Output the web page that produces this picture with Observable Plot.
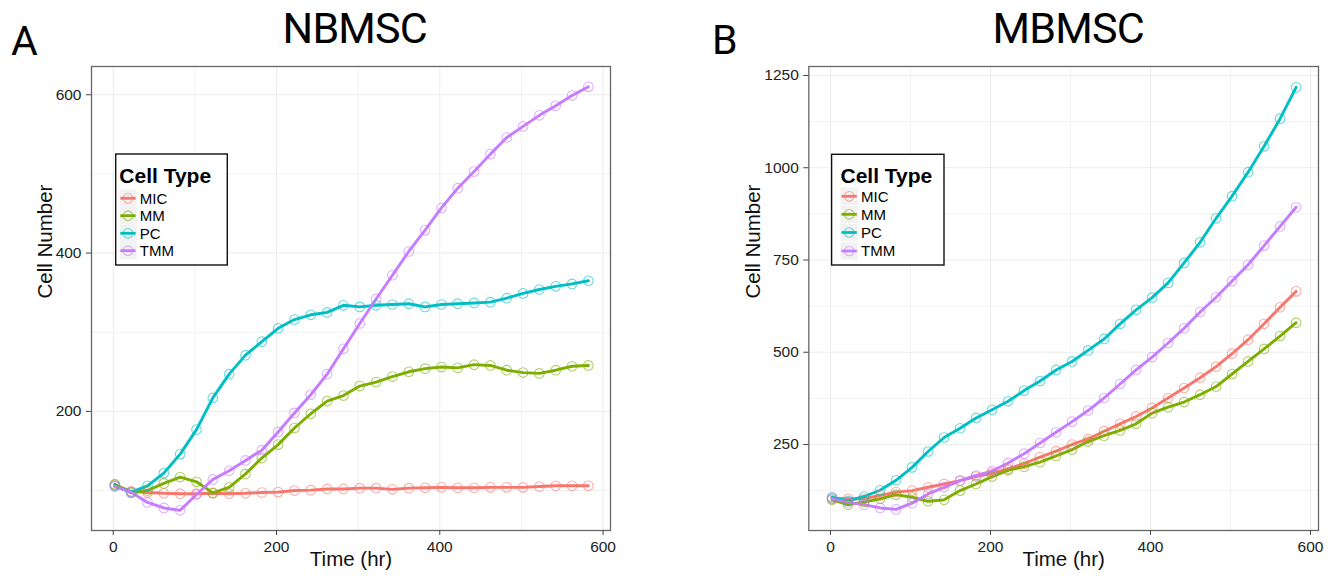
<!DOCTYPE html>
<html><head><meta charset="utf-8">
<script src="https://cdn.jsdelivr.net/npm/d3@7"></script>
<script src="https://cdn.jsdelivr.net/npm/@observablehq/plot@0.6"></script>
<style>
body{margin:0;background:#fff;}
#wrap{position:relative;width:1332px;height:579px;overflow:hidden;background:#fff;}
#wrap svg{position:absolute;top:0;}
.ttl{position:absolute;font-family:Roboto,'Open Sans',sans-serif;color:#000;white-space:nowrap;line-height:normal;}
</style></head><body><div id="wrap"></div>
<script>
// ---- data ----
const cellTypes = ["MIC", "MM", "PC", "TMM"];
const colors = ["#F8766D", "#7CAE00", "#00BFC4", "#C77CFF"];
const timeHr = [2,22,42,62,82,102,122,142,162,182,202,222,242,262,282,302,322,342,362,382,402,422,442,462,482,502,522,542,562,582];

const nbMIC = [107,99,97.5,96.5,96,96,96.5,96,96.5,97.5,98,100,100.5,102,102,103,103,101.5,103,103.5,104,103.5,103.5,104,104,104,105,106,106,106];
const nbMM  = [108,97,100,109,117,111,97,104,121,141,158,179,197,213,220,232,237,244,250,254,256,255,259,258,252,249,248,252,257,258];
const nbPC  = [106,98,106,122,146,177,217,247,271,288,305,316,322,325,334,332,334,335,336,332,335,336,337,338,343,349,354,358,361,365];
const nbTMM = [105,98,85,78,75,95,114,125,138,151,174,198,221,247,279,311,342,372,402,429,457,482,503,525,546,560,574,586,599,610];

const mbMIC = [104,103,103,112,121,125,134,143,152,163,172,184,198,216,232,250,265,286,306,326,349,376,403,431,461,496,534,577,622,665];
const mbMM  = [100,87,94,103,114,107,96,100,125,143,163,180,190,202,219,236,258,274,288,306,335,351,365,385,407,441,475,509,544,580];
const mbPC  = [107,97,109,126,153,188,231,269,294,322,344,367,396,422,452,475,505,536,577,615,648,688,742,798,863,923,988,1058,1133,1218];
const mbTMM = [103,93,87,78,74,91,116,134,152,166,178,200,225,254,283,312,342,376,414,452,487,525,565,609,649,693,737,789,841,893];

const xTicks = [0, 200, 400, 600];
const xMinor = [100, 300, 500];
const nbYTicks = [200, 400, 600];
const nbYMinor = [100, 300, 500];
const mbYTicks = [250, 500, 750, 1000, 1250];
const mbYMinor = [125, 375, 625, 875, 1125];

const xLabel = "Time (hr)";
const yLabel = "Cell Number";
const legendTitle = "Cell Type";

// ---- drawing ----
const FONT = "Liberation Sans";
function panel(o) {
  const rows = [];
  cellTypes.forEach((c, k) => o.series[k].forEach((v, i) => rows.push({type: c, t: timeHr[i], n: v})));
  const svg = Plot.plot({
    width: o.width, height: 579,
    marginLeft: o.ml, marginRight: o.mr, marginTop: 66, marginBottom: 49,
    style: {fontFamily: FONT, fontSize: "15.5px", color: "#222", background: "transparent", overflow: "visible"},
    x: {domain: o.xDomain},
    y: {domain: o.yDomain},
    color: {domain: cellTypes, range: colors},
    marks: [
      Plot.gridX(xMinor, {stroke: "#f2f2f2", strokeOpacity: 1, strokeWidth: 1}),
      Plot.gridY(o.yMinor, {stroke: "#f2f2f2", strokeOpacity: 1, strokeWidth: 1}),
      Plot.gridX(xTicks, {stroke: "#ececec", strokeOpacity: 1, strokeWidth: 1}),
      Plot.gridY(o.yTicks, {stroke: "#ececec", strokeOpacity: 1, strokeWidth: 1}),
      Plot.line(rows, {x: "t", y: "n", z: "type", stroke: "type", strokeWidth: 2.9}),
      Plot.dot(rows, {x: "t", y: "n", stroke: "type", r: 4.8, strokeWidth: 1.1, strokeOpacity: 0.6, fill: "none"}),
      Plot.frame({stroke: "#666", strokeWidth: 1.3}),
      Plot.axisX(xTicks, {tickSize: 5, tickPadding: 5, label: null, stroke: "#444", tickFormat: d3.format("d"), fontFamily: FONT, fontSize: 15.5}),
      Plot.axisY(o.yTicks, {tickSize: 5, tickPadding: 5, label: null, stroke: "#444", tickFormat: d3.format("d"), fontFamily: FONT, fontSize: 15.5}),
      Plot.text([xLabel], {frameAnchor: "bottom", dy: 35, fontSize: 20.5, fill: "#111", fontFamily: FONT}),
      Plot.text([yLabel], {frameAnchor: "left", rotate: -90, dx: o.yLabelDx, fontSize: 20.5, fill: "#111", fontFamily: FONT})
    ]
  });
  svg.style.left = o.left + "px";
  return svg;
}

const wrap = document.getElementById("wrap");
wrap.appendChild(panel({
  series: [nbMIC, nbMM, nbPC, nbTMM], left: 0, width: 640, ml: 91, mr: 30,
  xDomain: [-26.6, 609.1], yDomain: [49.5, 635.7], yTicks: nbYTicks, yMinor: nbYMinor, yLabelDx: -46
}));
wrap.appendChild(panel({
  series: [mbMIC, mbMM, mbPC, mbTMM], left: 700, width: 632, ml: 108.3, mr: 14,
  xDomain: [-27.1, 610], yDomain: [16.9, 1274.4], yTicks: mbYTicks, yMinor: mbYMinor, yLabelDx: -55
}));

// overlay: legends
const ov = d3.select(wrap).append("svg").attr("width", 1332).attr("height", 579).style("left", "0px");
function legend(bx, by, bw, bh, cx, rowY) {
  const g = ov.append("g").attr("font-family", FONT);
  g.append("rect").attr("x", bx).attr("y", by).attr("width", bw).attr("height", bh)
    .attr("fill", "#fff").attr("stroke", "#111").attr("stroke-width", 1.4);
  g.append("text").attr("x", cx).attr("y", by + 29).attr("font-size", 21).attr("font-weight", "bold").attr("fill", "#000").text(legendTitle);
  cellTypes.forEach((c, k) => {
    const cy = rowY[k];
    g.append("rect").attr("x", cx).attr("y", cy - 8.7).attr("width", 17.3).attr("height", 17.3).attr("fill", "#f2f2f2");
    g.append("line").attr("x1", cx + 1).attr("x2", cx + 16.3).attr("y1", cy).attr("y2", cy).attr("stroke", colors[k]).attr("stroke-width", 2.8);
    g.append("circle").attr("cx", cx + 8.65).attr("cy", cy).attr("r", 4.8).attr("fill", "none").attr("stroke", colors[k]).attr("stroke-opacity", 0.6).attr("stroke-width", 1.1);
    g.append("text").attr("x", cx + 20.5).attr("y", cy + 5.4).attr("font-size", 15).attr("fill", "#000").text(c);
  });
}
legend(115.7, 154, 111.6, 111, 119.3, [198.3, 215.7, 233.3, 250.7]);
legend(831.6, 154.3, 112.4, 110.7, 840.5, [196.3, 214.3, 232.5, 251]);

// panel titles as HTML text; top chosen so the baseline sits at the wanted y (Roboto ascent ~0.93em)
function title(s, x, baseline, size, center, ls) {
  const d = document.createElement("div");
  d.className = "ttl";
  d.textContent = s;
  d.style.fontSize = size + "px";
  d.style.top = Math.max(1, baseline - 0.93 * size) + "px";
  if (ls) d.style.letterSpacing = ls;
  wrap.appendChild(d);
  d.style.left = (center ? x - d.offsetWidth / 2 : x) + "px";
}
title("A", 11, 55, 41, false);
title("B", 712, 54, 41, false);
title("NBMSC", 355, 43, 43, true, "-0.8px");
title("MBMSC", 1068, 43, 43, true, "-0.8px");
</script>
</body></html>
